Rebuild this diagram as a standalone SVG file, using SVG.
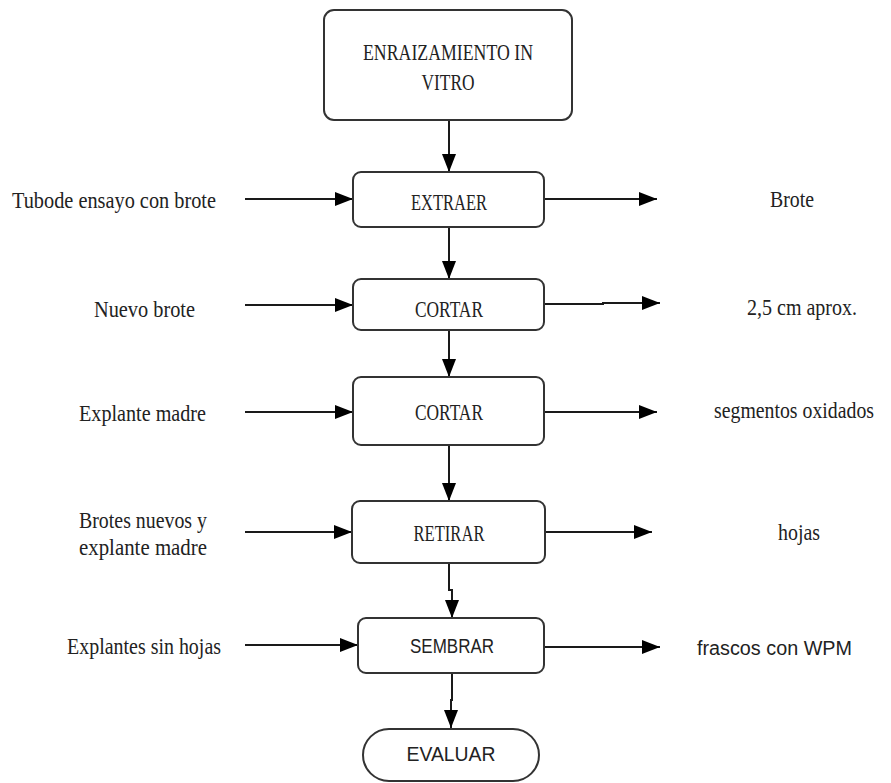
<svg xmlns="http://www.w3.org/2000/svg" width="891" height="783" viewBox="0 0 891 783">
<style>
.box{fill:#fff;stroke:#333;stroke-width:2}
.ln{fill:none;stroke:#1a1a1a;stroke-width:2}
.s{font-family:"Liberation Serif","Times New Roman",serif;font-size:23px;fill:#222}
.a{font-family:"Liberation Sans",Arial,sans-serif;font-size:20px;fill:#222}
.m{text-anchor:middle}
</style>
<defs>
<marker id="ah" markerUnits="userSpaceOnUse" markerWidth="18" markerHeight="14" refX="18" refY="7" orient="auto">
<path d="M0,0 L18,7 L0,14 z" fill="#000"/>
</marker>
</defs>
<rect width="891" height="783" fill="#fff"/>
<g id="connectors">
<path class="ln" d="M449,120 V172" marker-end="url(#ah)"/>
<path class="ln" d="M449,227 V279" marker-end="url(#ah)"/>
<path class="ln" d="M449,330 V377" marker-end="url(#ah)"/>
<path class="ln" d="M449,445 V501" marker-end="url(#ah)"/>
<path class="ln" d="M449,563 V590 H452 V618" marker-end="url(#ah)"/>
<path class="ln" d="M452,673 V700 H451 V728" marker-end="url(#ah)"/>
<path class="ln" d="M245,199 H353" marker-end="url(#ah)"/>
<path class="ln" d="M245,305 H353" marker-end="url(#ah)"/>
<path class="ln" d="M245,412 H353" marker-end="url(#ah)"/>
<path class="ln" d="M245,532 H352" marker-end="url(#ah)"/>
<path class="ln" d="M245,645 H358" marker-end="url(#ah)"/>
<path class="ln" d="M544,199 H657" marker-end="url(#ah)"/>
<path class="ln" d="M544,304 H603 V303 H660" marker-end="url(#ah)"/>
<path class="ln" d="M544,412 H657" marker-end="url(#ah)"/>
<path class="ln" d="M545,532 H652" marker-end="url(#ah)"/>
<path class="ln" d="M544,647 H660" marker-end="url(#ah)"/>
</g>
<g id="n-title">
<rect class="box" x="324" y="10" width="248" height="110" rx="10"/>
<text class="s m" x="448" y="60" font-size="25" textLength="170" lengthAdjust="spacingAndGlyphs">ENRAIZAMIENTO  IN</text>
<text class="s m" x="448" y="90" font-size="25" textLength="53" lengthAdjust="spacingAndGlyphs">VITRO</text>
</g>
<g id="n-extraer">
<rect class="box" x="353" y="172" width="191" height="55" rx="8"/>
<text class="s m" x="449" y="210" textLength="76" lengthAdjust="spacingAndGlyphs">EXTRAER</text>
</g>
<g id="n-cortar1">
<rect class="box" x="353" y="279" width="191" height="51" rx="8"/>
<text class="s m" x="449" y="317" textLength="68" lengthAdjust="spacingAndGlyphs">CORTAR</text>
</g>
<g id="n-cortar2">
<rect class="box" x="353" y="377" width="191" height="68" rx="8"/>
<text class="s m" x="449" y="420" textLength="68" lengthAdjust="spacingAndGlyphs">CORTAR</text>
</g>
<g id="n-retirar">
<rect class="box" x="352" y="501" width="193" height="62" rx="8"/>
<text class="s m" x="449" y="541" textLength="71" lengthAdjust="spacingAndGlyphs">RETIRAR</text>
</g>
<g id="n-sembrar">
<rect class="box" x="358" y="618" width="186" height="55" rx="8"/>
<text class="a m" x="452" y="653" font-size="18" textLength="84" lengthAdjust="spacingAndGlyphs">SEMBRAR</text>
</g>
<g id="n-evaluar">
<rect class="box" x="363" y="729" width="176" height="52" rx="26"/>
<text class="a m" x="451" y="761" textLength="89" lengthAdjust="spacingAndGlyphs">EVALUAR</text>
</g>
<g id="in-labels">
<text class="s" x="12" y="208" textLength="204" lengthAdjust="spacingAndGlyphs">Tubode ensayo con brote</text>
<text class="s" x="94" y="317" textLength="101" lengthAdjust="spacingAndGlyphs">Nuevo brote</text>
<text class="s" x="79" y="421" textLength="127" lengthAdjust="spacingAndGlyphs">Explante madre</text>
<text class="s" x="79" y="528" textLength="128" lengthAdjust="spacingAndGlyphs">Brotes nuevos y</text>
<text class="s" x="79" y="555" textLength="128" lengthAdjust="spacingAndGlyphs">explante madre</text>
<text class="s" x="67" y="654" textLength="154" lengthAdjust="spacingAndGlyphs">Explantes sin hojas</text>
</g>
<g id="out-labels">
<text class="s" x="770" y="207" textLength="44" lengthAdjust="spacingAndGlyphs">Brote</text>
<text class="s" x="747" y="315" textLength="110" lengthAdjust="spacingAndGlyphs">2,5 cm aprox.</text>
<text class="s" x="714" y="418" font-size="20" textLength="160" lengthAdjust="spacingAndGlyphs">segmentos oxidados</text>
<text class="s" x="778" y="540" textLength="42" lengthAdjust="spacingAndGlyphs">hojas</text>
<text class="a" x="697" y="655" textLength="155" lengthAdjust="spacingAndGlyphs">frascos con WPM</text>
</g>
</svg>
